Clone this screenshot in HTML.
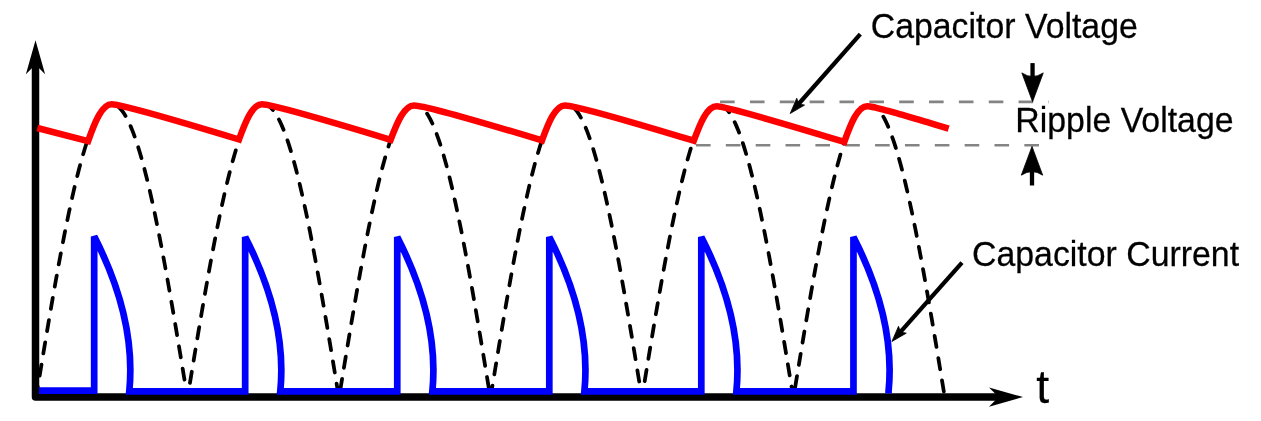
<!DOCTYPE html>
<html lang="en">
<head>
<meta charset="utf-8">
<title>Smoothed ripple: capacitor voltage and current</title>
<style>
html,body{margin:0;padding:0;background:#fff;}
body{width:1261px;height:421px;overflow:hidden;}
svg{display:block;}
text{font-family:"Liberation Sans",Arial,Helvetica,sans-serif;fill:#000;stroke:#000;stroke-width:0.25px;}
</style>
</head>
<body>
<svg width="1261" height="421" viewBox="0 0 1261 421">
<rect width="1261" height="421" fill="#fff"/>
<!-- grey ripple guide lines -->
<path d="M720.1,101.9 H1048.9" fill="none" stroke="#848484" stroke-width="2.6" stroke-dasharray="14.6,15.25"/>
<path d="M696,145.2 H1046" fill="none" stroke="#848484" stroke-width="2.6" stroke-dasharray="14.6,15.25"/>
<!-- rectified sine (dashed) -->
<path d="M36,398 L37.26,390.3 L38.52,382.61 L39.79,374.93 L41.05,367.27 L42.31,359.63 L43.57,352.01 L44.84,344.42 L46.1,336.87 L47.36,329.37 L48.62,321.91 L49.89,314.5 L51.15,307.15 L52.41,299.86 L53.67,292.64 L54.94,285.49 L56.2,278.42 L57.46,271.43 L58.72,264.53 L59.98,257.72 L61.25,251 L62.51,244.39 L63.77,237.88 L65.03,231.48 L66.3,225.19 L67.56,219.02 L68.82,212.98 L70.08,207.06 L71.35,201.28 L72.61,195.62 L73.87,190.11 L75.13,184.74 L76.39,179.52 L77.66,174.44 L78.92,169.52 L80.18,164.75 L81.44,160.15 L82.71,155.71 L83.97,151.43 L85.23,147.32 L86.49,143.39 L87.76,139.63 L89.02,136.04 L90.28,132.64 L91.54,129.42 L92.8,126.38 L94.07,123.53 L95.33,120.86 L96.59,118.39 L97.85,116.11 L99.12,114.02 L100.38,112.12 L101.64,110.42 L102.9,108.92 L104.17,107.62 L105.43,106.52 L106.69,105.61 L107.95,104.91 L109.22,104.6 L110.48,104.6 L111.74,104.6 L113,104.6 L114.26,104.6 L115.53,104.91 L116.79,105.61 L118.05,106.52 L119.31,107.62 L120.58,108.92 L121.84,110.42 L123.1,112.12 L124.36,114.02 L125.63,116.11 L126.89,118.39 L128.15,120.86 L129.41,123.53 L130.67,126.38 L131.94,129.42 L133.2,132.64 L134.46,136.04 L135.72,139.63 L136.99,143.39 L138.25,147.32 L139.51,151.43 L140.77,155.71 L142.04,160.15 L143.3,164.75 L144.56,169.52 L145.82,174.44 L147.09,179.52 L148.35,184.74 L149.61,190.11 L150.87,195.62 L152.13,201.28 L153.4,207.06 L154.66,212.98 L155.92,219.02 L157.18,225.19 L158.45,231.48 L159.71,237.88 L160.97,244.39 L162.23,251 L163.5,257.72 L164.76,264.53 L166.02,271.43 L167.28,278.42 L168.54,285.49 L169.81,292.64 L171.07,299.86 L172.33,307.15 L173.59,314.5 L174.86,321.91 L176.12,329.37 L177.38,336.87 L178.64,344.42 L179.91,352.01 L181.17,359.63 L182.43,367.27 L183.69,374.93 L184.96,382.61 L186.22,390.3 L187.48,398 L188.74,390.3 L190,382.61 L191.27,374.93 L192.53,367.27 L193.79,359.63 L195.05,352.01 L196.32,344.42 L197.58,336.87 L198.84,329.37 L200.1,321.91 L201.37,314.5 L202.63,307.15 L203.89,299.86 L205.15,292.64 L206.41,285.49 L207.68,278.42 L208.94,271.43 L210.2,264.53 L211.46,257.72 L212.73,251 L213.99,244.39 L215.25,237.88 L216.51,231.48 L217.78,225.19 L219.04,219.02 L220.3,212.98 L221.56,207.06 L222.83,201.28 L224.09,195.62 L225.35,190.11 L226.61,184.74 L227.87,179.52 L229.14,174.44 L230.4,169.52 L231.66,164.75 L232.92,160.15 L234.19,155.71 L235.45,151.43 L236.71,147.32 L237.97,143.39 L239.24,139.63 L240.5,136.04 L241.76,132.64 L243.02,129.42 L244.28,126.38 L245.55,123.53 L246.81,120.86 L248.07,118.39 L249.33,116.11 L250.6,114.02 L251.86,112.12 L253.12,110.42 L254.38,108.92 L255.65,107.62 L256.91,106.52 L258.17,105.61 L259.43,104.91 L260.7,104.6 L261.96,104.6 L263.22,104.6 L264.48,104.6 L265.74,104.6 L267.01,104.91 L268.27,105.61 L269.53,106.52 L270.79,107.62 L272.06,108.92 L273.32,110.42 L274.58,112.12 L275.84,114.02 L277.11,116.11 L278.37,118.39 L279.63,120.86 L280.89,123.53 L282.15,126.38 L283.42,129.42 L284.68,132.64 L285.94,136.04 L287.2,139.63 L288.47,143.39 L289.73,147.32 L290.99,151.43 L292.25,155.71 L293.52,160.15 L294.78,164.75 L296.04,169.52 L297.3,174.44 L298.57,179.52 L299.83,184.74 L301.09,190.11 L302.35,195.62 L303.61,201.28 L304.88,207.06 L306.14,212.98 L307.4,219.02 L308.66,225.19 L309.93,231.48 L311.19,237.88 L312.45,244.39 L313.71,251 L314.98,257.72 L316.24,264.53 L317.5,271.43 L318.76,278.42 L320.02,285.49 L321.29,292.64 L322.55,299.86 L323.81,307.15 L325.07,314.5 L326.34,321.91 L327.6,329.37 L328.86,336.87 L330.12,344.42 L331.39,352.01 L332.65,359.63 L333.91,367.27 L335.17,374.93 L336.44,382.61 L337.7,390.3 L338.96,398 L340.22,390.3 L341.48,382.61 L342.75,374.93 L344.01,367.27 L345.27,359.63 L346.53,352.01 L347.8,344.42 L349.06,336.87 L350.32,329.37 L351.58,321.91 L352.85,314.5 L354.11,307.15 L355.37,299.86 L356.63,292.64 L357.89,285.49 L359.16,278.42 L360.42,271.43 L361.68,264.53 L362.94,257.72 L364.21,251 L365.47,244.39 L366.73,237.88 L367.99,231.48 L369.26,225.19 L370.52,219.02 L371.78,212.98 L373.04,207.06 L374.31,201.28 L375.57,195.62 L376.83,190.11 L378.09,184.74 L379.35,179.52 L380.62,174.44 L381.88,169.52 L383.14,164.75 L384.4,160.15 L385.67,155.71 L386.93,151.43 L388.19,147.32 L389.45,143.39 L390.72,139.63 L391.98,136.04 L393.24,132.64 L394.5,129.42 L395.76,126.38 L397.03,123.53 L398.29,120.86 L399.55,118.39 L400.81,116.11 L402.08,114.02 L403.34,112.12 L404.6,110.42 L405.86,108.92 L407.13,107.62 L408.39,106.52 L409.65,105.7 L410.91,105.7 L412.18,105.7 L413.44,105.7 L414.7,105.7 L415.96,105.7 L417.22,105.7 L418.49,105.7 L419.75,105.7 L421.01,106.52 L422.27,107.62 L423.54,108.92 L424.8,110.42 L426.06,112.12 L427.32,114.02 L428.59,116.11 L429.85,118.39 L431.11,120.86 L432.37,123.53 L433.63,126.38 L434.9,129.42 L436.16,132.64 L437.42,136.04 L438.68,139.63 L439.95,143.39 L441.21,147.32 L442.47,151.43 L443.73,155.71 L445,160.15 L446.26,164.75 L447.52,169.52 L448.78,174.44 L450.05,179.52 L451.31,184.74 L452.57,190.11 L453.83,195.62 L455.09,201.28 L456.36,207.06 L457.62,212.98 L458.88,219.02 L460.14,225.19 L461.41,231.48 L462.67,237.88 L463.93,244.39 L465.19,251 L466.46,257.72 L467.72,264.53 L468.98,271.43 L470.24,278.42 L471.5,285.49 L472.77,292.64 L474.03,299.86 L475.29,307.15 L476.55,314.5 L477.82,321.91 L479.08,329.37 L480.34,336.87 L481.6,344.42 L482.87,352.01 L484.13,359.63 L485.39,367.27 L486.65,374.93 L487.92,382.61 L489.18,390.3 L490.44,398 L491.7,390.3 L492.96,382.61 L494.23,374.93 L495.49,367.27 L496.75,359.63 L498.01,352.01 L499.28,344.42 L500.54,336.87 L501.8,329.37 L503.06,321.91 L504.33,314.5 L505.59,307.15 L506.85,299.86 L508.11,292.64 L509.37,285.49 L510.64,278.42 L511.9,271.43 L513.16,264.53 L514.42,257.72 L515.69,251 L516.95,244.39 L518.21,237.88 L519.47,231.48 L520.74,225.19 L522,219.02 L523.26,212.98 L524.52,207.06 L525.79,201.28 L527.05,195.62 L528.31,190.11 L529.57,184.74 L530.83,179.52 L532.1,174.44 L533.36,169.52 L534.62,164.75 L535.88,160.15 L537.15,155.71 L538.41,151.43 L539.67,147.32 L540.93,143.39 L542.2,139.63 L543.46,136.04 L544.72,132.64 L545.98,129.42 L547.24,126.38 L548.51,123.53 L549.77,120.86 L551.03,118.39 L552.29,116.11 L553.56,114.02 L554.82,112.12 L556.08,110.42 L557.34,108.92 L558.61,107.62 L559.87,106.52 L561.13,105.7 L562.39,105.7 L563.66,105.7 L564.92,105.7 L566.18,105.7 L567.44,105.7 L568.7,105.7 L569.97,105.7 L571.23,105.7 L572.49,106.52 L573.75,107.62 L575.02,108.92 L576.28,110.42 L577.54,112.12 L578.8,114.02 L580.07,116.11 L581.33,118.39 L582.59,120.86 L583.85,123.53 L585.11,126.38 L586.38,129.42 L587.64,132.64 L588.9,136.04 L590.16,139.63 L591.43,143.39 L592.69,147.32 L593.95,151.43 L595.21,155.71 L596.48,160.15 L597.74,164.75 L599,169.52 L600.26,174.44 L601.53,179.52 L602.79,184.74 L604.05,190.11 L605.31,195.62 L606.57,201.28 L607.84,207.06 L609.1,212.98 L610.36,219.02 L611.62,225.19 L612.89,231.48 L614.15,237.88 L615.41,244.39 L616.67,251 L617.94,257.72 L619.2,264.53 L620.46,271.43 L621.72,278.42 L622.98,285.49 L624.25,292.64 L625.51,299.86 L626.77,307.15 L628.03,314.5 L629.3,321.91 L630.56,329.37 L631.82,336.87 L633.08,344.42 L634.35,352.01 L635.61,359.63 L636.87,367.27 L638.13,374.93 L639.4,382.61 L640.66,390.3 L641.92,398 L643.18,390.3 L644.44,382.61 L645.71,374.93 L646.97,367.27 L648.23,359.63 L649.49,352.01 L650.76,344.42 L652.02,336.87 L653.28,329.37 L654.54,321.91 L655.81,314.5 L657.07,307.15 L658.33,299.86 L659.59,292.64 L660.85,285.49 L662.12,278.42 L663.38,271.43 L664.64,264.53 L665.9,257.72 L667.17,251 L668.43,244.39 L669.69,237.88 L670.95,231.48 L672.22,225.19 L673.48,219.02 L674.74,212.98 L676,207.06 L677.27,201.28 L678.53,195.62 L679.79,190.11 L681.05,184.74 L682.31,179.52 L683.58,174.44 L684.84,169.52 L686.1,164.75 L687.36,160.15 L688.63,155.71 L689.89,151.43 L691.15,147.32 L692.41,143.39 L693.68,139.63 L694.94,136.04 L696.2,132.64 L697.46,129.42 L698.72,126.38 L699.99,123.53 L701.25,120.86 L702.51,118.39 L703.77,116.11 L705.04,114.02 L706.3,112.12 L707.56,110.42 L708.82,108.92 L710.09,107.62 L711.35,106.55 L712.61,106.55 L713.87,106.55 L715.14,106.55 L716.4,106.55 L717.66,106.55 L718.92,106.55 L720.18,106.55 L721.45,106.55 L722.71,106.55 L723.97,106.55 L725.23,107.62 L726.5,108.92 L727.76,110.42 L729.02,112.12 L730.28,114.02 L731.55,116.11 L732.81,118.39 L734.07,120.86 L735.33,123.53 L736.59,126.38 L737.86,129.42 L739.12,132.64 L740.38,136.04 L741.64,139.63 L742.91,143.39 L744.17,147.32 L745.43,151.43 L746.69,155.71 L747.96,160.15 L749.22,164.75 L750.48,169.52 L751.74,174.44 L753.01,179.52 L754.27,184.74 L755.53,190.11 L756.79,195.62 L758.05,201.28 L759.32,207.06 L760.58,212.98 L761.84,219.02 L763.1,225.19 L764.37,231.48 L765.63,237.88 L766.89,244.39 L768.15,251 L769.42,257.72 L770.68,264.53 L771.94,271.43 L773.2,278.42 L774.46,285.49 L775.73,292.64 L776.99,299.86 L778.25,307.15 L779.51,314.5 L780.78,321.91 L782.04,329.37 L783.3,336.87 L784.56,344.42 L785.83,352.01 L787.09,359.63 L788.35,367.27 L789.61,374.93 L790.88,382.61 L792.14,390.3 L793.4,398 L794.66,390.3 L795.92,382.61 L797.19,374.93 L798.45,367.27 L799.71,359.63 L800.97,352.01 L802.24,344.42 L803.5,336.87 L804.76,329.37 L806.02,321.91 L807.29,314.5 L808.55,307.15 L809.81,299.86 L811.07,292.64 L812.33,285.49 L813.6,278.42 L814.86,271.43 L816.12,264.53 L817.38,257.72 L818.65,251 L819.91,244.39 L821.17,237.88 L822.43,231.48 L823.7,225.19 L824.96,219.02 L826.22,212.98 L827.48,207.06 L828.75,201.28 L830.01,195.62 L831.27,190.11 L832.53,184.74 L833.79,179.52 L835.06,174.44 L836.32,169.52 L837.58,164.75 L838.84,160.15 L840.11,155.71 L841.37,151.43 L842.63,147.32 L843.89,143.39 L845.16,139.63 L846.42,136.04 L847.68,132.64 L848.94,129.42 L850.2,126.38 L851.47,123.53 L852.73,120.86 L853.99,118.39 L855.25,116.11 L856.52,114.02 L857.78,112.12 L859.04,110.42 L860.3,108.92 L861.57,107.62 L862.83,106.55 L864.09,106.55 L865.35,106.55 L866.62,106.55 L867.88,106.55 L869.14,106.55 L870.4,106.55 L871.66,106.55 L872.93,106.55 L874.19,106.55 L875.45,106.55 L876.71,107.62 L877.98,108.92 L879.24,110.42 L880.5,112.12 L881.76,114.02 L883.03,116.11 L884.29,118.39 L885.55,120.86 L886.81,123.53 L888.07,126.38 L889.34,129.42 L890.6,132.64 L891.86,136.04 L893.12,139.63 L894.39,143.39 L895.65,147.32 L896.91,151.43 L898.17,155.71 L899.44,160.15 L900.7,164.75 L901.96,169.52 L903.22,174.44 L904.49,179.52 L905.75,184.74 L907.01,190.11 L908.27,195.62 L909.53,201.28 L910.8,207.06 L912.06,212.98 L913.32,219.02 L914.58,225.19 L915.85,231.48 L917.11,237.88 L918.37,244.39 L919.63,251 L920.9,257.72 L922.16,264.53 L923.42,271.43 L924.68,278.42 L925.94,285.49 L927.21,292.64 L928.47,299.86 L929.73,307.15 L930.99,314.5 L932.26,321.91 L933.52,329.37 L934.78,336.87 L936.04,344.42 L937.31,352.01 L938.57,359.63 L939.83,367.27 L941.09,374.93 L942.36,382.61 L943.62,390.3 L944.88,398" fill="none" stroke="#000" stroke-width="3.75" stroke-dasharray="11.29,11.29" stroke-dashoffset="0" stroke-linecap="round" stroke-linejoin="round"/>
<!-- axes -->
<path d="M35.5,62 V397.05 H1001" fill="none" stroke="#000" stroke-width="7.5" stroke-linejoin="round"/>
<path d="M35.5,40.2 L45.1,74.2 L35.5,64.6 L25.9,74.2 Z" fill="#000" />
<path d="M1023,397.05 L989,406.65 L998.6,397.05 L989,387.45 Z" fill="#000" />
<!-- capacitor current -->
<path d="M39,390.7 L94.18,390.7 V236.4 C115.98,278.9 135.18,331.9 129.28,391.4 L245.18,391.4 V237 C266.98,279.5 286.18,332.5 280.28,391.4 L397.25,391.4 V237 C419.05,279.5 438.25,332.5 432.35,391.4 L549.3,391.4 V237 C571.1,279.5 590.3,332.5 584.4,391.4 L701.3,391.4 V237 C723.1,279.5 742.3,332.5 736.4,391.4 L853.46,391.4 V237 C875.26,279.5 894.46,332.5 888.56,391.4 V393.6" fill="none" stroke="#00f" stroke-width="6.7" stroke-linejoin="miter" stroke-miterlimit="4"/>
<!-- capacitor voltage -->
<path d="M37.3,128L88.1,141.2C94.76,122.27 101.84,104.3 111.7,104.3C120.03,104.3 172.1,119.23 239,139.5L239,139.5C245.49,121.44 252.39,104.3 262,104.3C270.33,104.3 323.7,119.53 390.6,139.8L390.6,139.8C397.23,122.15 404.28,105.4 414.1,105.4C422.43,105.4 475.1,120.13 542,140.4L542,140.4C548.49,122.45 555.39,105.4 565,105.4C573.33,105.4 626.9,120.43 693.8,140.7L693.8,140.7C700.26,123.03 707.13,106.25 716.7,106.25C725.03,106.25 777.4,121.63 844.3,141.9L844.3,141.9C850.79,123.61 857.69,106.25 867.3,106.25L868.01,106.28L868.88,106.37L869.9,106.52L871.09,106.72L872.43,106.98L873.92,107.3L875.55,107.67L877.34,108.09L879.26,108.56L881.33,109.09L883.53,109.66L885.87,110.28L888.34,110.95L890.94,111.66L893.66,112.42L896.51,113.22L899.48,114.07L902.57,114.96L905.77,115.88L909.09,116.85L912.51,117.85L916.04,118.89L919.68,119.97L923.42,121.08L927.26,122.22L931.19,123.4L935.21,124.61L939.33,125.85L943.54,127.12L947.83,128.41L948.65,128.66" fill="none" stroke="#f00" stroke-width="6.5" stroke-linejoin="miter" stroke-miterlimit="4"/>
<!-- annotation arrows -->
<path d="M860.3,34.1 L798.34,104.28" fill="none" stroke="#000" stroke-width="4.25"/>
<path d="M790.2,113.5 L796.76,98.21 Q798.01,104.65 804.56,105.1 Z" fill="#000" stroke="#000" stroke-width="0.8" stroke-linejoin="round"/>
<path d="M962,262.7 L900.08,332.31" fill="none" stroke="#000" stroke-width="4.25"/>
<path d="M891.9,341.5 L898.52,326.24 Q899.74,332.68 906.29,333.15 Z" fill="#000" stroke="#000" stroke-width="0.8" stroke-linejoin="round"/>
<path d="M1032.55,63.1 L1032.55,78" fill="none" stroke="#000" stroke-width="4.3"/>
<path d="M1032.55,101.7 L1021.85,72.9 Q1032.55,80.1 1043.25,72.9 Z" fill="#000" stroke="#000" stroke-width="0.8" stroke-linejoin="round"/>
<path d="M1032,185.5 L1032,170.1" fill="none" stroke="#000" stroke-width="4.3"/>
<path d="M1032,146.4 L1042.7,175.2 Q1032,168 1021.3,175.2 Z" fill="#000" stroke="#000" stroke-width="0.8" stroke-linejoin="round"/>
<!-- labels -->
<text transform="translate(870.7,37.6) scale(1,1.035)" font-size="33.85">Capacitor Voltage</text>
<text transform="translate(1015.3,132.2) scale(1,1.035)" font-size="33.85">Ripple Voltage</text>
<text transform="translate(972,265.6) scale(1,1.035)" font-size="33.85">Capacitor Current</text>
<text transform="translate(1036.2,403.1) scale(1,1.015)" font-size="46.4">t</text>
</svg>
</body>
</html>
